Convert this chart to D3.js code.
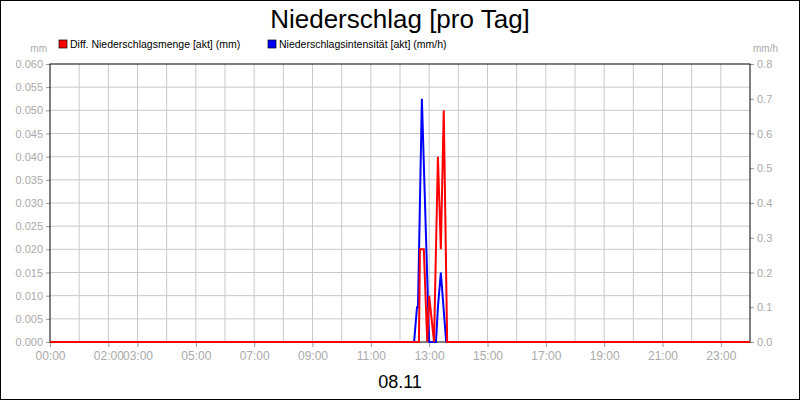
<!DOCTYPE html>
<html><head><meta charset="utf-8">
<script src="https://cdn.jsdelivr.net/npm/d3@7"></script>
<style>body{margin:0;background:#fff}svg{font-family:Arial,"Liberation Sans",sans-serif}</style>
</head><body>
<svg id="chart" width="800" height="400"></svg>
<script>
// minutes of the day
let mengeTimes  = [0, 759, 761, 763, 769, 776, 780, 790, 798, 804, 810, 817, 1440];
let mengeValues = [0, 0, 0.02, 0.02, 0.02, 0, 0.01, 0, 0.04, 0.02, 0.05, 0, 0];
let intensTimes  = [749, 755, 757, 765, 780, 794, 798, 804, 815];
let intensValues = [0, 0.1, 0.1, 0.7, 0, 0, 0.1, 0.2, 0];
let tickHours = [0, 2, 3, 5, 7, 9, 11, 13, 15, 17, 19, 21, 23];
let leftTicks = d3.range(0, 0.0601, 0.005);
let rightTicks = d3.range(0, 0.801, 0.1);

let svg = d3.select("#chart"),
  margin = {top: 64, right: 50, bottom: 58, left: 50},
  width = 800 - margin.left - margin.right,
  height = 400 - margin.top - margin.bottom;

svg.append("rect").attr("x", 0.5).attr("y", 0.5).attr("width", 799).attr("height", 399)
  .attr("fill", "#fff").attr("stroke", "#000");

let g = svg.append("g").attr("transform", "translate(" + margin.left + "," + margin.top + ")");

let x = d3.scaleLinear().domain([0, 1440]).range([0, width]),
  y = d3.scaleLinear().domain([0, 0.06]).range([height, 0]),
  y2 = d3.scaleLinear().domain([0, 0.8]).range([height, 0]);

// grid
g.append("g").selectAll("line").data(d3.range(1, 24)).enter().append("line")
  .attr("x1", d => x(d * 60)).attr("x2", d => x(d * 60))
  .attr("y1", 0).attr("y2", height).attr("stroke", "#c8c8c8");
g.append("g").selectAll("line").data(leftTicks.slice(1, -1)).enter().append("line")
  .attr("x1", 0).attr("x2", width).attr("y1", d => y(d)).attr("y2", d => y(d)).attr("stroke", "#c8c8c8");

// axes
let styleAxis = sel => {
  sel.selectAll(".domain").remove();
  sel.selectAll(".tick line").attr("stroke", "#999");
  sel.selectAll(".tick text").attr("fill", "#aaa").style("font-size", "11px");
};
g.append("g").call(d3.axisLeft(y).tickValues(leftTicks).tickFormat(d3.format(".3f")).tickSize(4)).call(styleAxis);
g.append("g").attr("transform", "translate(" + width + ",0)")
  .call(d3.axisRight(y2).tickValues(rightTicks).tickFormat(d3.format(".1f")).tickSize(4)).call(styleAxis);
g.append("g").attr("transform", "translate(0," + height + ")")
  .call(d3.axisBottom(x).tickValues(tickHours.map(h => h * 60))
    .tickFormat(d => String(d / 60).padStart(2, "0") + ":00").tickSize(5).tickPadding(4))
  .call(styleAxis)
  .call(s => s.selectAll(".tick text").style("font-size", "12px"));

g.append("rect").attr("width", width).attr("height", height).attr("fill", "none").attr("stroke", "#000");

// lines
g.append("path").datum(intensTimes.map((t, i) => [t, intensValues[i]]))
  .attr("fill", "none").attr("stroke", "#0000ff").attr("stroke-width", 2)
  .attr("d", d3.line().x(d => x(d[0])).y(d => y2(d[1])));
g.append("path").datum(mengeTimes.map((t, i) => [t, mengeValues[i]]))
  .attr("fill", "none").attr("stroke", "#ff0000").attr("stroke-width", 2)
  .attr("d", d3.line().x(d => x(d[0])).y(d => y(d[1])));

// titles
svg.append("text").attr("x", 400).attr("y", 28).attr("text-anchor", "middle")
  .style("font-size", "26px").text("Niederschlag [pro Tag]");
svg.append("text").attr("x", 400).attr("y", 388).attr("text-anchor", "middle")
  .style("font-size", "18px").text("08.11");
svg.append("text").attr("x", 47).attr("y", 52).attr("text-anchor", "end")
  .attr("fill", "#aaa").style("font-size", "10px").text("mm");
svg.append("text").attr("x", 753).attr("y", 52).attr("text-anchor", "start")
  .attr("fill", "#aaa").style("font-size", "10px").text("mm/h");

// legend
let legend = [["Diff. Niederschlagsmenge [akt] (mm)", "#ff0000", 59], ["Niederschlagsintensität [akt] (mm/h)", "#0000ff", 268]];
legend.forEach(function (l) {
  svg.append("rect").attr("x", l[2]).attr("y", 40).attr("width", 8).attr("height", 8)
    .attr("fill", l[1]).attr("stroke", "#000").attr("stroke-width", 0.7);
  svg.append("text").attr("x", l[2] + 11).attr("y", 48).style("font-size", "10.5px").text(l[0]);
});
</script>
</body></html>
